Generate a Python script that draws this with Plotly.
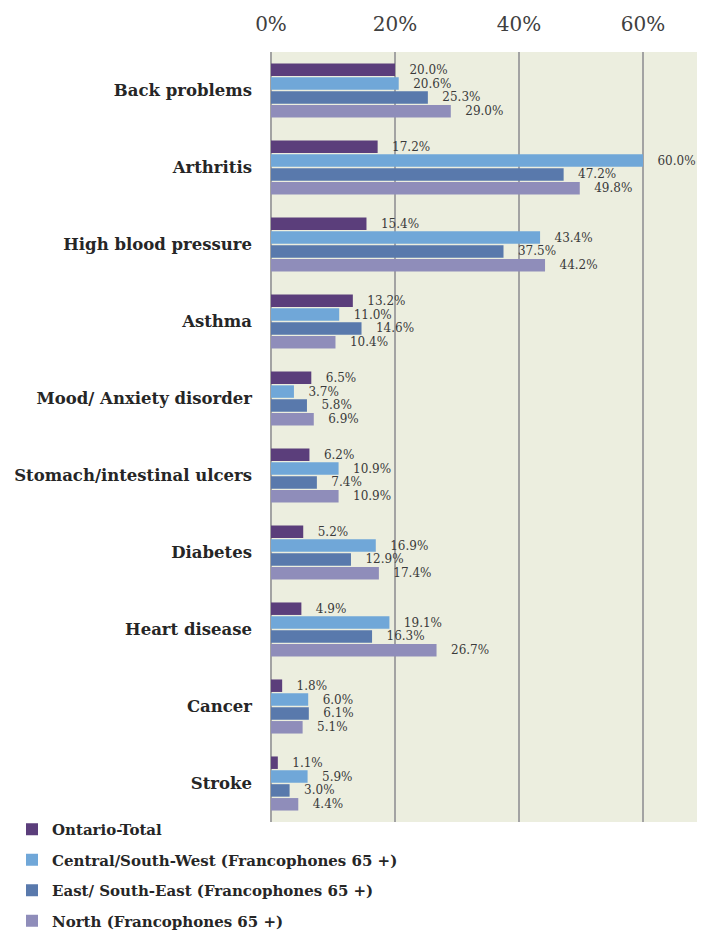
import plotly.graph_objects as go

categories = ["Back problems", "Arthritis", "High blood pressure", "Asthma",
              "Mood/ Anxiety disorder", "Stomach/intestinal ulcers", "Diabetes",
              "Heart disease", "Cancer", "Stroke"]

ontario = [20.0, 17.2, 15.4, 13.2, 6.5, 6.2, 5.2, 4.9, 1.8, 1.1]
central = [20.6, 60.0, 43.4, 11.0, 3.7, 10.9, 16.9, 19.1, 6.0, 5.9]
east = [25.3, 47.2, 37.5, 14.6, 5.8, 7.4, 12.9, 16.3, 6.1, 3.0]
north = [29.0, 49.8, 44.2, 10.4, 6.9, 10.9, 17.4, 26.7, 5.1, 4.4]

series_names = ["Ontario-Total",
                "Central/South-West (Francophones 65 +)",
                "East/ South-East (Francophones 65 +)",
                "North (Francophones 65 +)"]
series_values = [ontario, central, east, north]
colors = ["#5B3E7B", "#70A7D8", "#5979AC", "#8F8DBA"]

tick_vals = [0, 20, 40, 60]
tick_text = ["0%", "20%", "40%", "60%"]

SERIF = "DejaVu Serif"
# page body has an 8px margin, so the figure is drawn 8px smaller and shifted
W, H = 697, 934
L, R, T, B = 263, 0, 44, 120
plot_w = W - L - R
plot_h = H - T - B

fig = go.Figure()
for i, (name, vals, col) in enumerate(zip(series_names, series_values, colors)):
    fig.add_trace(go.Bar(
        y=categories, x=vals, orientation="h", name=name,
        marker=dict(color=col, line=dict(width=0)),
        texttemplate="   %{x:.1f}%", textposition="outside",
        textfont=dict(family=SERIF, size=12, color="#3a3a3a"),
        constraintext="none", cliponaxis=False,
        legendgroup=f"g{i}",
    ))

fig.update_layout(
    width=W, height=H,
    margin=dict(l=L, r=R, t=T, b=B, autoexpand=False),
    paper_bgcolor="white", plot_bgcolor="#ECEEDF",
    barmode="group", bargap=0.28, bargroupgap=0.1,
    font=dict(family=SERIF, color="#262626"),
    showlegend=True,
    legend=dict(
        x=(4 - L) / plot_w, y=-(805 - (T + plot_h)) / plot_h,
        xanchor="left", yanchor="top", traceorder="grouped",
        tracegroupgap=8, itemwidth=30,
        font=dict(family=SERIF, size=15, color="#262626", weight="bold"),
        bgcolor="rgba(0,0,0,0)",
    ),
)
fig.update_xaxes(
    side="top", range=[0, 70], tickvals=tick_vals, ticktext=tick_text,
    showgrid=True, gridcolor="#A3A3A3", gridwidth=2, zeroline=True,
    zerolinecolor="#A3A3A3", zerolinewidth=2, tickangle=0, automargin=False,
    tickfont=dict(family=SERIF, size=20, color="#404040"),
    ticks="", ticklabelstandoff=16,
)
fig.update_yaxes(
    autorange="reversed", ticks="", ticklabelstandoff=18, automargin=False,
    tickfont=dict(family=SERIF, size=16.5, color="#262626", weight="bold"),
)

fig.write_html("out.html")
